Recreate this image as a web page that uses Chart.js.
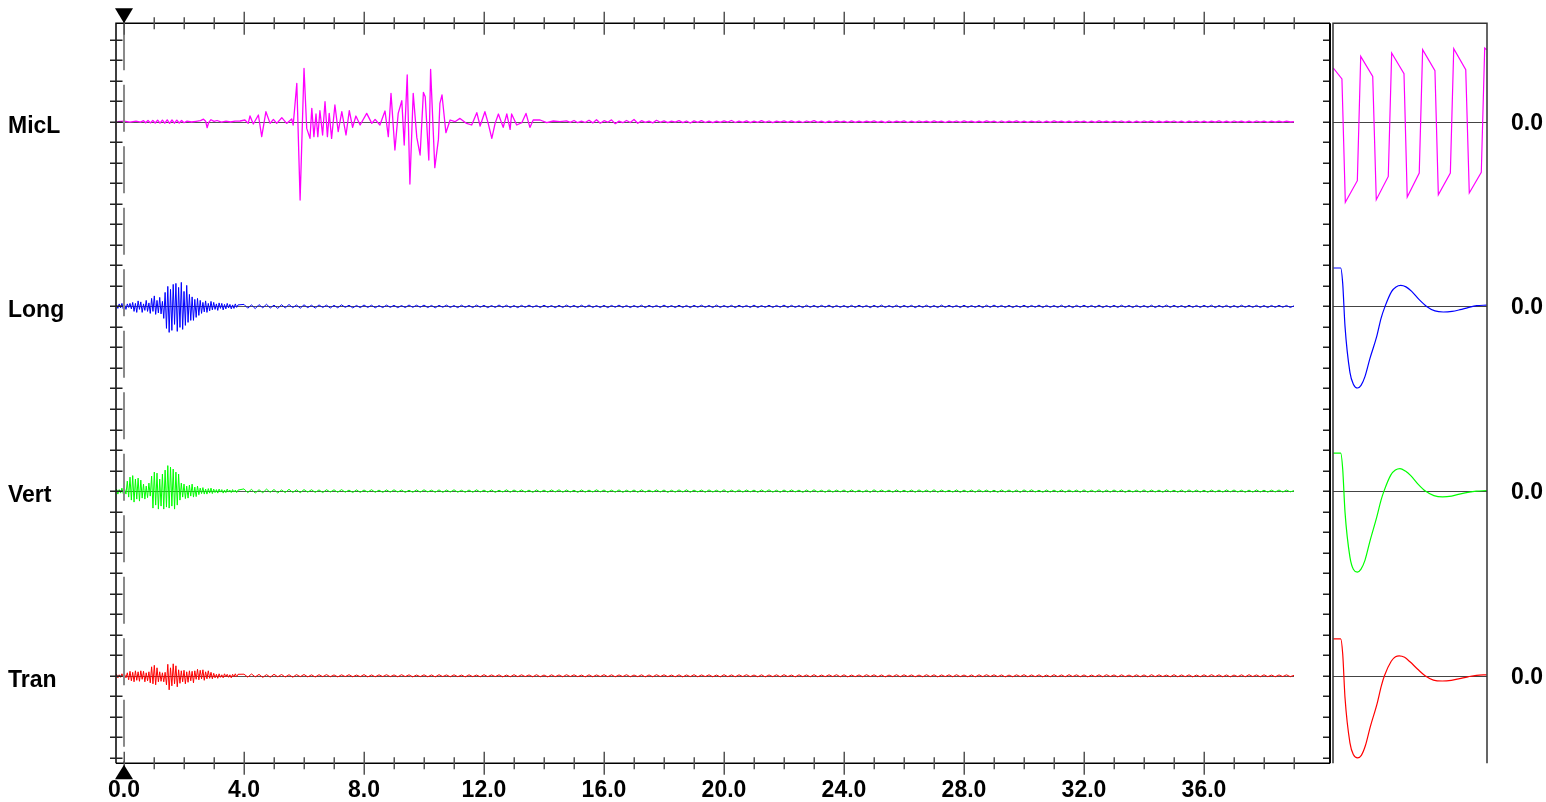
<!DOCTYPE html>
<html lang="en">
<head>
<meta charset="UTF-8">
<title>Seismograph traces</title>
<script src="https://cdn.jsdelivr.net/npm/chart.js"></script>
<style>
    html, body { margin: 0; padding: 0; background: #fff; overflow: hidden; }
    #traceChart { position: absolute; left: 0; top: 0; }
    #calChart { position: absolute; left: 1331px; top: 0; }
</style>
</head>
<body>
<canvas id="traceChart" width="1332" height="802"></canvas>
<canvas id="calChart" width="215" height="802"></canvas>
<script>
// channel names, top to bottom
const channels = ['MicL', 'Long', 'Vert', 'Tran'];
const timeTicks = [0, 4, 8, 12, 16, 20, 24, 28, 32, 36];
const lastSecond = 39;

// sampling of the recorded traces (seconds)
const burstStart = -0.25, burstStep = 0.045;
const tailStart = 4.0, micTailStart = 14.75, tailStep = 0.125;

// microphone: picked points [time, amplitude]
const micEvent = [
    [-0.22, 0], [0.0, 0.5], [0.2, -0.5], [0.4, 0.6], [0.55, -0.4], [0.65, 1.0], [0.72, -1.0], [0.8, 1.2],
    [0.88, -1.2], [0.96, 1.3], [1.04, -1.3], [1.12, 1.5], [1.2, -1.4], [1.28, 1.6], [1.36, -1.5], [1.44, 1.8],
    [1.52, -1.6], [1.6, 1.7], [1.68, -1.5], [1.76, 1.6], [1.84, -1.3], [1.92, 1.2], [2.0, -1.0], [2.1, 0.6],
    [2.25, -0.3], [2.4, 0.4], [2.55, 1.0], [2.65, 2.5], [2.72, 0.5], [2.77, -6.0], [2.82, -1.0], [2.9, 2.0],
    [3.0, 0.3], [3.1, 1.2], [3.25, -0.5], [3.4, 0.6], [3.55, -0.3], [3.7, 0.5],
    [3.87, 0.7], [4.03, 1.7], [4.14, -1.7], [4.2, 5.7], [4.31, -2.3], [4.48, 6.7], [4.59, -15], [4.73, 10],
    [4.87, -1.7], [4.98, 2.3], [5.09, -1.7], [5.26, 4], [5.42, -1.7], [5.59, 2.7], [5.64, -3.3], [5.76, 38.3],
    [5.87, -78.3], [6.0, 53.3], [6.09, -6.7], [6.2, -16.7], [6.26, 13.3], [6.33, -15], [6.4, 7.7], [6.46, -15],
    [6.53, 11], [6.62, -13.3], [6.7, 20], [6.78, -15], [6.84, 8.3], [6.92, -16.7], [7.03, 16.7], [7.14, -10],
    [7.26, 10], [7.4, -13.3], [7.51, 11], [7.62, -5.7], [7.73, 5.7], [7.87, -3.3], [8.09, 8.3], [8.26, -1.7],
    [8.37, 2.3], [8.53, -3.3], [8.7, 10.7], [8.81, -15], [8.9, 28.3], [9.03, -28.3], [9.14, 8.3], [9.26, 21],
    [9.34, -23.3], [9.44, 46.7], [9.53, -62.3], [9.64, 28.3], [9.76, -15.7], [9.87, -33.3], [9.98, 29.3], [10.04, 25],
    [10.16, -38.3], [10.22, 52.3], [10.36, -46], [10.48, -17.7], [10.53, 18.3], [10.6, 26.7], [10.73, -11], [10.87, 1.7],
    [11.03, 0], [11.2, 3.3], [11.42, -1.7], [11.59, -3.3], [11.76, 9], [11.87, -4.3], [12.03, 10], [12.14, -1.7],
    [12.26, -16.7], [12.37, -1.7], [12.48, 7.7], [12.64, -5.7], [12.76, 7.7], [12.87, -7.7], [12.92, 7.7], [13.09, -3.3],
    [13.26, -1], [13.4, 8.3], [13.53, -5.7], [13.64, 1.7], [13.87, 1.7], [14.09, -1], [14.31, 0.7], [14.53, 0]
];
const micTail = [
    0.8, -0.6, 1.2, -1, 0.5, -0.8, 1.5, -1.2, 2, -1.5, 1, -0.5, 1.8, -2, 0.6, -1, 1.2, -0.8, 2.2, -1.6,
    1, -0.7, 0.5, -1.2, 1.4, -0.6, 0.9, -1, 0.6, -0.5, 1.1, -0.9, 0.7, -1.3, 0.8, -0.6, 1, -0.8, 0.6, -0.9,
    0.5, -0.7, 0.9, -0.5, 1.2, -0.8, 0.6, -0.6, 0.8, -1, 0.5, -0.7, 1, -0.6, 0.7, -0.9, 0.6, -0.5, 0.8, -0.7,
    0.9, -0.6, 0.5, -0.8, 0.7, -0.5, 1, -0.7, 0.6, -0.9, 0.5, -0.6, 0.8, -0.5, 0.6, -0.8, 0.9, -0.6, 0.5, -0.7,
    0.6, -0.5, 0.8, -0.7, 0.5, -0.9, 0.7, -0.6, 0.6, -0.5, 0.9, -0.8, 0.5, -0.6, 0.7, -0.5, 0.6, -0.7, 0.8, -0.5,
    0.5, -0.8, 0.6, -0.5, 0.7, -0.6, 0.9, -0.5, 0.5, -0.7, 0.6, -0.6, 0.8, -0.5, 0.5, -0.8, 0.7, -0.6, 0.6, -0.5,
    0.8, -0.6, 0.5, -0.7, 0.6, -0.5, 0.7, -0.8, 0.5, -0.6, 0.9, -0.5, 0.6, -0.7, 0.5, -0.6, 0.7, -0.5, 0.6, -0.8,
    0.5, -0.6, 0.8, -0.5, 0.6, -0.7, 0.5, -0.5, 0.7, -0.6, 0.6, -0.8, 0.5, -0.6, 0.7, -0.5, 0.8, -0.6, 0.5, -0.7,
    0.6, -0.5, 0.7, -0.6, 0.5, -0.8, 0.6, -0.5, 0.7, -0.6, 0.5, -0.7, 0.6, -0.5, 0.8, -0.6, 0.5, -0.6, 0.7, -0.5,
    0.6, -0.7, 0.5, -0.6, 0.7, -0.5, 0.6, -0.6, 0.5, -0.5, 0.6, -0.4, 0.5, -0.3, 0
];

// geophone bursts (burstStep apart) and the quiet tails (tailStep apart)
const longBurst = [
    1, -2, 2.5, -1.5, 3, -2.5, 1.5, -3, 2.5, -1, 3, -2.5,
    4, -5, 3, -6, 5.5, -3, 4.5, -6, 2.5, -4, 6, -5, 3.5,
    -7, 8, -5, 10.5, -8, 6, -6.5, 9, -7.5, 5,
    -12, 14, -22, 20, -26, 17,
    -24, 22, -18, 23, -25, 19, -21, 24, -23, 15, -19, 21, -16, 12, -14,
    9.5, -14, 7, -11, 8, -9,
    6, -7, 4, -5.5, 5.5, -6, 3, -4.5, 5, -3.5,
    4, -3, 2.5, -4, 3.5, -2, 3, -3.5, 2, -2.5, 3, -1.5,
    2, -2.5, 1.5, -2, 2.5, -1, 1.5
];
const longTail = [
    2, -1.8, 1.5, -2.2, 1.8, -1.4, 2.1, -1.6, 1.3, -2, 1.7, -1.5, 1.9, -1.2, 1.4, -1.8, 1.6, -1.3, 1.2, -1.7,
    1.5, -1.1, 1.3, -1.6, 1.1, -1.4, 1.6, -1, 1.2, -1.5, 1, -1.3, 1.4, -1.1, 1.2, -1.4, 0.9, -1.2, 1.3, -1,
    1.1, -1.3, 0.9, -1.2, 1.4, -1, 1.2, -0.9, 1.3, -1.2, 1, -1.4, 1.1, -0.9, 1.3, -1.1, 0.9, -1.3, 1.2, -1,
    1, -1.2, 1.3, -0.9, 1.1, -1.3, 0.9, -1.1, 1.4, -1, 1.2, -1.2, 0.9, -1.3, 1.1, -1, 1.3, -0.9, 1, -1.2,
    1.2, -1, 0.9, -1.3, 1.1, -1.1, 1.3, -0.9, 1, -1.2, 1.2, -1, 1.4, -1.1, 0.9, -1.2, 1.1, -1.3, 1, -0.9,
    1.3, -1.1, 1, -1.2, 0.9, -1, 1.2, -1.3, 1.1, -0.9, 1, -1.1, 1.3, -1, 0.9, -1.2, 1.2, -1.1, 1, -1.3,
    1.1, -0.9, 1.2, -1, 1, -1.2, 1.3, -1.1, 0.9, -1, 1.1, -1.3, 1.2, -0.9, 1, -1.1, 1.3, -1.2, 0.9, -1,
    1.2, -1.1, 1, -0.9, 1.3, -1.2, 1.1, -1, 0.9, -1.3, 1.2, -1, 1, -1.1, 1.1, -0.9, 1.3, -1.2, 1, -1,
    0.9, -1.2, 1.1, -1.1, 1.2, -0.9, 1, -1.3, 1.1, -1, 1.3, -1.1, 0.9, -1, 1.2, -1.2, 1, -0.9, 1.1, -1.3,
    1, -1, 1.2, -1.1, 0.9, -1.2, 1.3, -1, 1.1, -0.9, 1, -1.2, 1.2, -1.1, 0.9, -1, 1.1, -1.3, 1.2, -1,
    1.3, -0.9, 1, -1.1, 1.1, -1.2, 0.9, -1, 1.2, -1.1, 1, -0.9, 1.3, -1.2, 1.1, -1, 0.9, -1.1, 1.2, -1.2,
    1, -1.3, 1.1, -0.9, 1.2, -1, 1, -1.1, 1.3, -1.2, 0.9, -1, 1.1, -1.1, 1.2, -0.9, 1, -1.2, 1.1, -1,
    0.9, -1.1, 1.2, -1.2, 1, -0.9, 1.3, -1.1, 1.1, -1, 0.9, -1.2, 1.2, -1, 1, -1.1, 1.1, -0.9, 1.2, -1.3,
    1, -1, 1.1, -1.2, 0.9, -1.1, 1.2, -0.9, 1, -1, 1.1, -1.1, 0.9, -1.2, 1, -1, 1.1, -0.9, 1, -1.1,
    0.6
];
const vertBurst = [
    2, -3, 1.5, -2, 3, -2.5, 2, -3,
    10, -6, 14, -9, 15.5, -11, 12, -8, 13, -10, 11, -7,
    7, -8, 5, -6.5, 8, -5,
    15, -17, 19, -14, 18, -18, 12, -15, 17,
    -18, 21, -16, 25.5, -17, 24, -15, 22, -18, 19, -14, 17,
    -9, 8, -6, 7, -7.5, 5,
    -7, 6, -5, 7, -6, 4, -5.5, 5,
    -3.5, 3, -2.5, 3.5, -3, 2, -3, 2.5, -2, 3, -2.5,
    2, -1.5, 1.5, -2, 2, -1, 1.5, -2, 1, -1.5, 2, -1, 1, -1.5, 1.5, -1, 1, -1.5, 1
];
const vertTail = [
    2.2, -1.6, 1.8, -2, 1.4, -1.7, 2, -1.3, 1.6, -1.9, 1.2, -1.5, 1.8, -1.4, 1.3, -1.6, 1.5, -1.1, 1.4, -1.3,
    1.2, -1.5, 1.4, -1, 1.3, -1.2, 1.5, -1.1, 1, -1.4, 1.2, -1.3, 1.1, -1, 1.4, -1.2, 1, -1.3, 1.2, -1.1,
    1.3, -1, 1.1, -1.3, 0.9, -1.2, 1.2, -1.1, 1.3, -0.9, 1, -1.2, 1.2, -1.3, 1.1, -1, 1.3, -1.1, 0.9, -1.2,
    1.1, -1.2, 1.3, -1, 1, -1.1, 1.2, -1.3, 0.9, -1, 1.3, -1.2, 1.1, -0.9, 1.2, -1.1, 1, -1.3, 1.2, -1,
    1, -1.1, 1.2, -0.9, 1.3, -1.2, 1.1, -1, 0.9, -1.3, 1.2, -1.1, 1, -1, 1.3, -0.9, 1.1, -1.2, 1, -1.1,
    1.2, -1.3, 0.9, -1, 1.1, -1.2, 1.3, -1.1, 1, -0.9, 1.2, -1, 1.1, -1.3, 0.9, -1.1, 1.2, -1, 1.3, -1.2,
    1, -0.9, 1.1, -1.2, 1.2, -1, 0.9, -1.1, 1.3, -1.3, 1, -1, 1.2, -1.1, 1.1, -0.9, 1, -1.2, 1.2, -1,
    1.3, -1.1, 0.9, -1.2, 1.1, -1, 1.2, -0.9, 1, -1.3, 1.1, -1.1, 1.3, -1, 0.9, -1.2, 1.2, -1.1, 1, -0.9,
    1.1, -1.2, 1.2, -1, 1, -1.1, 0.9, -1.3, 1.3, -1, 1.1, -0.9, 1, -1.2, 1.2, -1.1, 0.9, -1, 1.1, -1.2,
    1.2, -1, 1, -1.1, 1.3, -1.2, 1.1, -0.9, 0.9, -1.1, 1.2, -1.3, 1, -1, 1.1, -1.2, 1.3, -0.9, 1, -1.1,
    0.9, -1.2, 1.2, -1, 1.1, -1.1, 1, -1.3, 1.2, -0.9, 1.3, -1, 0.9, -1.2, 1.1, -1.1, 1, -1, 1.2, -1.2,
    1.1, -0.9, 1, -1.2, 1.2, -1.1, 0.9, -1, 1.3, -1.2, 1, -1.1, 1.1, -0.9, 1.2, -1.3, 1, -1, 0.9, -1.1,
    1.2, -1.1, 1.1, -1, 1, -1.2, 1.3, -0.9, 0.9, -1.1, 1.1, -1.2, 1.2, -1, 1, -1.1, 0.9, -1.2, 1.1, -1,
    1, -1.1, 1.2, -0.9, 1.1, -1, 0.9, -1.2, 1, -1.1, 1.2, -1, 0.9, -1.1, 1, -0.9, 1.1, -1, 1, -0.8,
    0.5
];
const tranBurst = [
    1.5, -2, 1, -1.5, 2, -1, 1.5, -2,
    3, -4, 4.5, -5, 3.5, -6, 5, -4.5, 4, -5.5, 5, -3.5, 4.5, -6, 3, -5, 4,
    -7, 9, -8, 10.5, -9, 8, -6,
    4, -5.5, 3, -6, 3.5,
    -9, 11.5, -14, 8, -10, 12, -8, 10, -11,
    6, -7.5, 5, -6, 5.5, -8, 4, -6.5, 5, -5, 4.5, -7,
    5, -3.5, 6.5, -4, 5.5, -3, 6, -4.5, 4, -3, 5, -2.5, 3.5, -3,
    2.5, -2, 1.5, -2.5, 2, -1.5, 1, -2, 2, -1, 1.5, -1.5, 1, -2, 1.5, -1, 2, -1, 1.5
];
const tranTail = [
    1.6, -1.3, 1.8, -1.1, 1.4, -1.6, 1.2, -1.4, 1.5, -1, 1.3, -1.2, 1.1, -1.4, 1.2, -0.9, 1.3, -1.1, 1, -1.2,
    1.1, -0.9, 1.2, -1, 0.9, -1.1, 1, -0.8, 1.1, -1, 0.8, -0.9, 1.2, -1.1, 0.9, -1, 1, -0.8, 1.1, -0.9,
    0.9, -1, 1.1, -0.8, 1, -1.1, 0.8, -0.9, 1, -1, 0.9, -1.1, 1.1, -0.8, 0.9, -1, 1, -0.9, 0.8, -1.1,
    1, -0.9, 0.8, -1, 1.1, -0.9, 0.9, -0.8, 1, -1.1, 0.8, -1, 1.1, -0.9, 1, -0.8, 0.9, -1, 1.1, -1,
    0.8, -1.1, 1, -0.9, 0.9, -1, 1.1, -0.8, 1, -0.9, 0.8, -1.1, 1, -1, 0.9, -0.8, 1.1, -0.9, 1, -1,
    0.9, -0.8, 1.1, -1, 0.8, -0.9, 1, -1.1, 0.9, -1, 1.1, -0.8, 1, -0.9, 0.8, -1, 1, -1.1, 0.9, -0.9,
    1.1, -1, 0.9, -0.8, 1, -1, 0.8, -1.1, 1.1, -0.9, 0.9, -1, 1, -0.8, 1.1, -0.9, 0.8, -1, 1, -1.1,
    0.9, -0.9, 1, -1, 1.1, -0.8, 0.8, -1.1, 1, -0.9, 0.9, -1, 1.1, -1, 0.8, -0.9, 1, -0.8, 1.1, -1,
    1, -1.1, 0.8, -0.9, 0.9, -1, 1.1, -0.8, 1, -1, 0.9, -1.1, 0.8, -0.9, 1.1, -1, 1, -0.8, 0.9, -1,
    0.8, -1, 1.1, -0.9, 1, -1.1, 0.9, -0.8, 1, -1, 1.1, -0.9, 0.8, -1, 0.9, -1.1, 1, -0.9, 1.1, -0.8,
    1, -0.9, 0.9, -1.1, 0.8, -1, 1, -0.8, 1.1, -1, 0.9, -0.9, 1, -1.1, 0.8, -1, 1.1, -0.9, 0.9, -1,
    1.1, -0.8, 1, -1, 0.9, -1.1, 0.8, -0.9, 1, -1, 1.1, -0.8, 0.9, -1.1, 1, -0.9, 0.8, -1, 1, -1,
    0.9, -1.1, 1.1, -0.9, 1, -0.8, 0.8, -1, 1.1, -1, 0.9, -0.9, 1, -1.1, 0.8, -1, 1, -0.9, 1.1, -0.8,
    1, -1, 0.9, -1.1, 0.8, -0.9, 1, -1, 1.1, -0.8, 0.9, -1, 1, -0.9, 0.8, -1, 0.9, -0.8, 1, -0.9,
    0.5
];

// calibration pulses, [fraction of window, amplitude]
const micCal = [
    [0.002, 53.7], [0.058, 42.7], [0.080, -80.7], [0.158, -59], [0.180, 65.3], [0.258, 45.3],
    [0.281, -78], [0.359, -54.7], [0.381, 68.7], [0.461, 48], [0.482, -75.3], [0.560, -51.3],
    [0.582, 72], [0.662, 51], [0.684, -73], [0.762, -51.3], [0.784, 73], [0.862, 52],
    [0.885, -71.3], [0.963, -50.7], [0.985, 73.7], [0.998, 72]
];
const longCal = [
    [0.002, 38.4], [0.050, 38.4], [0.063, 23], [0.078, -20], [0.110, -66], [0.133, -78], [0.160, -81.6],
    [0.182, -79], [0.208, -70], [0.240, -52], [0.284, -30], [0.312, -12], [0.338, 0], [0.381, 15],
    [0.409, 19.5], [0.440, 21], [0.474, 19.5], [0.511, 15], [0.558, 7], [0.608, 0], [0.662, -4.5],
    [0.716, -5.6], [0.773, -5], [0.825, -3.3], [0.877, -1.2], [0.933, 0.7], [0.998, 1.3]
];
const vertCal = [
    [0.002, 38], [0.050, 38], [0.063, 22], [0.078, -21], [0.110, -66], [0.133, -78.5], [0.158, -81],
    [0.182, -78], [0.208, -69], [0.240, -50], [0.284, -26], [0.312, -9], [0.331, 0], [0.375, 16],
    [0.405, 21], [0.435, 22.5], [0.470, 20], [0.505, 15.5], [0.552, 7], [0.600, 0], [0.655, -4.5],
    [0.712, -5.8], [0.770, -5], [0.822, -3], [0.875, -1.3], [0.930, 0], [0.998, 0.5]
];
const tranCal = [
    [0.002, 37], [0.050, 37], [0.063, 22], [0.078, -22], [0.110, -67], [0.133, -79], [0.160, -82],
    [0.184, -79.5], [0.210, -70], [0.242, -51], [0.286, -28], [0.314, -10], [0.334, 0], [0.378, 14.5],
    [0.406, 19], [0.430, 20], [0.465, 18.5], [0.500, 14], [0.550, 6.5], [0.598, 0], [0.652, -4.3],
    [0.710, -5.2], [0.768, -4.5], [0.822, -2.8], [0.876, -1], [0.932, 0.5], [0.998, 1]
];

// layout of the stacked tracks
const colors = ['#ff00ff', '#0000ff', '#00ff00', '#ff0000'];
const trackGap = 184.7;
const yMin = -87.5, yMax = 652.5;
const tMin = -0.267, tMax = 40.2;
const labelFont = { family: "'Liberation Sans', Arial, sans-serif", size: 23, weight: 'bold' };

function offsetOf(k) {
    return (channels.length - 1 - k) * trackGap;
}

function sampled(start, step, values) {
    return values.map((v, i) => [start + i * step, v]);
}

function toPoints(k, pairs) {
    return pairs.map(([t, a]) => ({ x: t, y: offsetOf(k) + a }));
}

const tracePairs = [
    micEvent.concat(sampled(micTailStart, tailStep, micTail)),
    sampled(burstStart, burstStep, longBurst).concat(sampled(tailStart, tailStep, longTail)),
    sampled(burstStart, burstStep, vertBurst).concat(sampled(tailStart, tailStep, vertTail)),
    sampled(burstStart, burstStep, tranBurst).concat(sampled(tailStart, tailStep, tranTail))
];
const calPairs = [micCal, longCal, vertCal, tranCal];

// baselines, frame, tick marks and the time-zero markers
const traceFrame = {
    id: 'traceFrame',
    beforeDatasetsDraw(chart) {
        const { ctx, scales: { x, y } } = chart;
        ctx.save();
        ctx.strokeStyle = '#555';
        ctx.lineWidth = 1;
        channels.forEach((_, k) => {
            const py = Math.round(y.getPixelForValue(offsetOf(k))) + 0.5;
            ctx.beginPath();
            ctx.moveTo(x.left, py);
            ctx.lineTo(x.getPixelForValue(lastSecond), py);
            ctx.stroke();
        });
        ctx.restore();
    },
    afterDatasetsDraw(chart) {
        const { ctx, chartArea: area, scales: { x, y } } = chart;
        const x0 = x.getPixelForValue(0);
        ctx.save();

        // dashed cursor at time zero
        ctx.strokeStyle = '#8a8a8a';
        ctx.lineWidth = 2;
        ctx.setLineDash([47, 14.5]);
        ctx.beginPath();
        ctx.moveTo(x0, area.top);
        ctx.lineTo(x0, area.bottom);
        ctx.stroke();
        ctx.setLineDash([]);

        // frame
        ctx.strokeStyle = '#000';
        ctx.lineWidth = 1.5;
        ctx.beginPath();
        ctx.moveTo(area.left, area.bottom);
        ctx.lineTo(area.left, area.top);
        ctx.lineTo(area.right, area.top);
        ctx.moveTo(area.left, area.bottom);
        ctx.lineTo(area.right, area.bottom);
        ctx.stroke();
        ctx.lineWidth = 2;
        ctx.beginPath();
        ctx.moveTo(area.right, area.top);
        ctx.lineTo(area.right, area.bottom);
        ctx.stroke();

        // time ticks across top and bottom edges
        ctx.strokeStyle = '#555';
        ctx.lineWidth = 1.5;
        for (let s = 0; s <= lastSecond; s++) {
            const px = Math.round(x.getPixelForValue(s)) + 0.25;
            const len = s % 4 === 0 ? 11.5 : 6;
            ctx.beginPath();
            ctx.moveTo(px, area.top - len);
            ctx.lineTo(px, area.top + len);
            ctx.moveTo(px, area.bottom - len);
            ctx.lineTo(px, area.bottom + len);
            ctx.stroke();
        }

        // amplitude ticks on both sides
        ctx.strokeStyle = '#222';
        for (let j = -4; j <= 31; j++) {
            const py = Math.round(y.getPixelForValue(j * trackGap / 9)) + 0.25;
            ctx.beginPath();
            ctx.moveTo(area.left - 6, py);
            ctx.lineTo(area.left + 6.5, py);
            ctx.moveTo(area.right - 7, py);
            ctx.lineTo(area.right - 1, py);
            ctx.stroke();
        }

        // time-zero triangles
        ctx.fillStyle = '#000';
        ctx.beginPath();
        ctx.moveTo(x0 - 9, area.top - 15);
        ctx.lineTo(x0 + 9, area.top - 15);
        ctx.lineTo(x0, area.top);
        ctx.closePath();
        ctx.fill();
        ctx.beginPath();
        ctx.moveTo(x0, area.bottom + 1.5);
        ctx.lineTo(x0 + 9, area.bottom + 16);
        ctx.lineTo(x0 - 9, area.bottom + 16);
        ctx.closePath();
        ctx.fill();
        ctx.restore();
    }
};

const calFrame = {
    id: 'calFrame',
    beforeDatasetsDraw(chart) {
        const { ctx, chartArea: area, scales: { y } } = chart;
        ctx.save();
        ctx.strokeStyle = '#444';
        ctx.lineWidth = 1;
        channels.forEach((_, k) => {
            const py = Math.round(y.getPixelForValue(offsetOf(k))) + 0.5;
            ctx.beginPath();
            ctx.moveTo(area.left, py);
            ctx.lineTo(area.right, py);
            ctx.stroke();
        });
        ctx.restore();
    },
    afterDatasetsDraw(chart) {
        const { ctx, chartArea: area } = chart;
        ctx.save();
        ctx.strokeStyle = '#333';
        ctx.lineWidth = 1.5;
        ctx.beginPath();
        ctx.moveTo(area.left, area.bottom);
        ctx.lineTo(area.left, area.top);
        ctx.lineTo(area.right, area.top);
        ctx.lineTo(area.right, area.bottom);
        ctx.stroke();
        ctx.restore();
    }
};

const traceChart = new Chart(document.getElementById('traceChart'), {
    type: 'line',
    data: {
        datasets: tracePairs.map((pairs, k) => ({
            label: channels[k],
            data: toPoints(k, pairs),
            borderColor: colors[k],
            borderWidth: k === 0 ? 1.3 : 1,
            borderJoinStyle: 'round',
            pointRadius: 0,
            tension: 0
        }))
    },
    options: {
        responsive: false,
        animation: false,
        events: [],
        layout: { padding: { left: 8, top: 23.3, right: 2, bottom: 0 } },
        plugins: { legend: { display: false }, tooltip: { enabled: false } },
        scales: {
            x: {
                type: 'linear',
                min: tMin,
                max: tMax,
                grid: { display: false, drawTicks: false },
                border: { display: false },
                afterBuildTicks: scale => { scale.ticks = timeTicks.map(v => ({ value: v })); },
                afterFit: scale => { scale.height = 38.7; },
                ticks: {
                    autoSkip: false,
                    maxRotation: 0,
                    padding: 14,
                    color: '#000',
                    font: labelFont,
                    callback: v => v.toFixed(1)
                }
            },
            y: {
                type: 'linear',
                min: yMin,
                max: yMax,
                grid: { display: false, drawTicks: false },
                border: { display: false },
                afterBuildTicks: scale => {
                    scale.ticks = channels.map((_, k) => ({ value: offsetOf(k) - 4.5 }));
                },
                afterFit: scale => { scale.width = 108; },
                ticks: {
                    crossAlign: 'far',
                    color: '#000',
                    font: labelFont,
                    callback: (v, i) => channels[i]
                }
            }
        }
    },
    plugins: [traceFrame]
});

const calChart = new Chart(document.getElementById('calChart'), {
    type: 'line',
    data: {
        datasets: calPairs.map((pairs, k) => ({
            label: channels[k],
            data: toPoints(k, pairs),
            borderColor: colors[k],
            borderWidth: 1.2,
            pointRadius: 0,
            cubicInterpolationMode: k === 0 ? 'default' : 'monotone',
            tension: k === 0 ? 0 : 0.4
        }))
    },
    options: {
        responsive: false,
        animation: false,
        events: [],
        layout: { padding: { left: 2, top: 23.3, right: 0, bottom: 38.7 } },
        plugins: { legend: { display: false }, tooltip: { enabled: false } },
        scales: {
            x: { type: 'linear', min: 0, max: 1, display: false },
            y: {
                type: 'linear',
                position: 'right',
                min: yMin,
                max: yMax,
                grid: { display: false, drawTicks: false },
                border: { display: false },
                afterBuildTicks: scale => {
                    scale.ticks = channels.map((_, k) => ({ value: offsetOf(k) - 1.5 }));
                },
                afterFit: scale => {
                    scale.width = 59;
                    scale.paddingTop = 0;
                    scale.paddingBottom = 0;
                },
                ticks: {
                    padding: 24,
                    color: '#000',
                    font: labelFont,
                    callback: () => '0.0'
                }
            }
        }
    },
    plugins: [calFrame]
});
</script>
</body>
</html>
